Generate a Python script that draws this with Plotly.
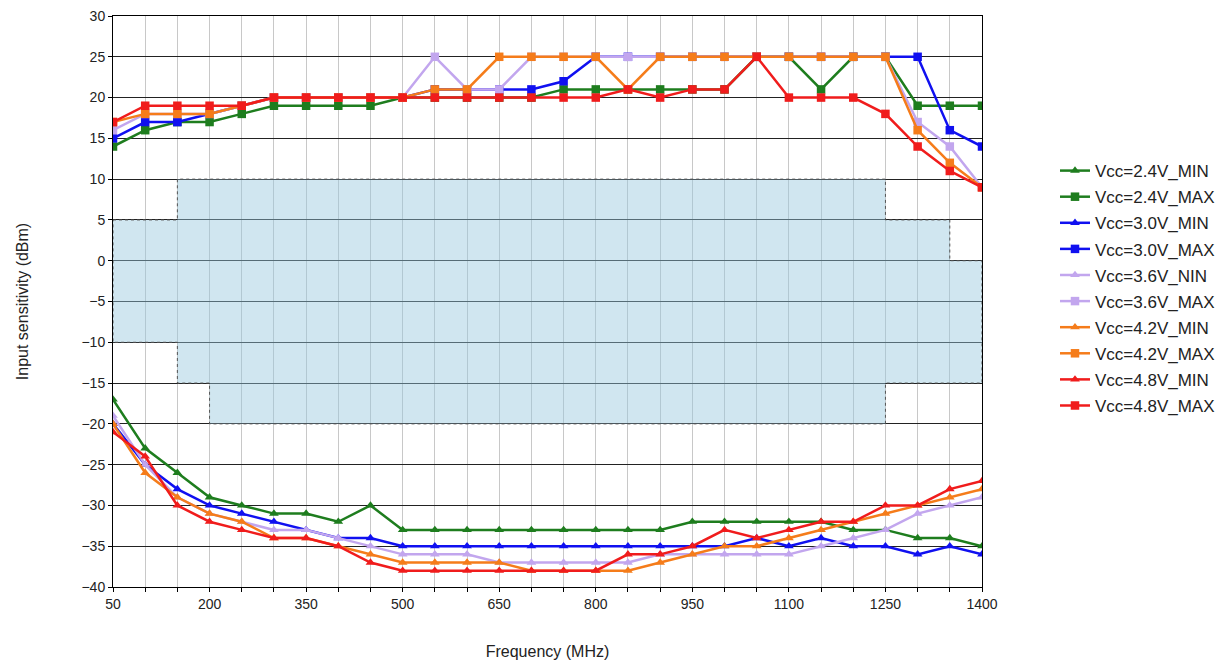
import plotly.graph_objects as go

freq = list(range(50, 1401, 50))

v24_min = [-17,-23,-26,-29,-30,-31,-31,-32,-30,-33,-33,-33,-33,-33,-33,-33,-33,-33,-32,-32,-32,-32,-32,-33,-33,-34,-34,-35]
v24_max = [14,16,17,17,18,19,19,19,19,20,20,20,20,20,21,21,21,21,21,21,25,25,21,25,25,19,19,19]
v30_min = [-20,-25,-28,-30,-31,-32,-33,-34,-34,-35,-35,-35,-35,-35,-35,-35,-35,-35,-35,-35,-34,-35,-34,-35,-35,-36,-35,-36]
v30_max = [15,17,17,18,19,20,20,20,20,20,21,21,21,21,22,25,25,25,25,25,25,25,25,25,25,25,16,14]
v36_min = [-19,-25,-29,-31,-32,-33,-33,-34,-35,-36,-36,-36,-37,-37,-37,-37,-37,-36,-36,-36,-36,-36,-35,-34,-33,-31,-30,-29]
v36_max = [16,18,18,18,19,20,20,20,20,20,25,21,21,25,25,25,25,25,25,25,25,25,25,25,25,17,14,9]
v42_min = [-20,-26,-29,-31,-32,-34,-34,-35,-36,-37,-37,-37,-37,-38,-38,-38,-38,-37,-36,-35,-35,-34,-33,-32,-31,-30,-29,-28]
v42_max = [17,18,18,18,19,20,20,20,20,20,21,21,25,25,25,25,21,25,25,25,25,25,25,25,25,16,12,9]
v48_min = [-21,-24,-30,-32,-33,-34,-34,-35,-37,-38,-38,-38,-38,-38,-38,-38,-36,-36,-35,-33,-34,-33,-32,-32,-30,-30,-28,-27]
v48_max = [17,19,19,19,19,20,20,20,20,20,20,20,20,20,20,20,21,20,21,21,25,20,20,20,18,14,11,9]

series_names = ["Vcc=2.4V_MIN", "Vcc=2.4V_MAX", "Vcc=3.0V_MIN", "Vcc=3.0V_MAX",
                "Vcc=3.6V_NIN", "Vcc=3.6V_MAX", "Vcc=4.2V_MIN", "Vcc=4.2V_MAX",
                "Vcc=4.8V_MIN", "Vcc=4.8V_MAX"]
series_values = [v24_min, v24_max, v30_min, v30_max, v36_min, v36_max,
                 v42_min, v42_max, v48_min, v48_max]
series_colors = ["#1e7d1e", "#1e7d1e", "#1010f0", "#1010f0", "#c2a6ee", "#c2a6ee",
                 "#f57c1a", "#f57c1a", "#f01c1c", "#f01c1c"]

# Shaded band (spec window), step segments
band_start = [50, 150, 200, 1250, 1350]
band_end = [150, 200, 1250, 1350, 1400]
band_top = [5, 10, 10, 5, 0]
band_bottom = [-10, -15, -20, -15, -15]

x_tick_labels = [50, 200, 350, 500, 650, 800, 950, 1100, 1250, 1400]

poly_x, poly_y = [], []
for s, e, t in zip(band_start, band_end, band_top):
    poly_x += [s, e]
    poly_y += [t, t]
for s, e, b in reversed(list(zip(band_start, band_end, band_bottom))):
    poly_x += [e, s]
    poly_y += [b, b]
poly_x.append(poly_x[0])
poly_y.append(poly_y[0])

fig = go.Figure()
fig.add_trace(go.Scatter(
    x=poly_x, y=poly_y, mode="lines", fill="toself",
    fillcolor="rgba(150,200,222,0.45)",
    line=dict(color="#555555", width=1, dash="dot"),
    showlegend=False, hoverinfo="skip"))

for i, (name, vals, col) in enumerate(zip(series_names, series_values, series_colors)):
    sym = "triangle-up" if "MAX" not in name else "square"
    fig.add_trace(go.Scatter(
        x=freq, y=vals, name=name, mode="lines+markers",
        line=dict(color=col, width=2.5),
        marker=dict(symbol=sym, size=8.5, color=col),
        legendgroup=name))

font_family = "Liberation Sans, Arial, sans-serif"
fig.update_layout(
    width=1215, height=652,
    margin=dict(l=105, r=241, t=8, b=73, autoexpand=False),
    paper_bgcolor="white", plot_bgcolor="white",
    font=dict(family=font_family, size=14, color="#222222"),
    showlegend=True,
    legend=dict(x=1.084, y=0.76, xanchor="left", yanchor="top",
                font=dict(size=17, color="#222222"),
                tracegroupgap=1, bgcolor="rgba(0,0,0,0)"),
    xaxis=dict(
        range=[50, 1400], tickvals=x_tick_labels,
        ticktext=[str(v) for v in x_tick_labels],
        automargin=False, ticklabeloverflow="allow",
        showgrid=True, gridcolor="#c8c8c8", gridwidth=1,
        showline=True, linecolor="black", linewidth=1, mirror=True,
        ticks="outside", ticklen=4, tickcolor="black",
        minor=dict(tick0=50, dtick=50, showgrid=True, gridcolor="#c8c8c8",
                   ticks="outside", ticklen=4, tickcolor="black"),
        zeroline=False,
        title=dict(text="Frequency (MHz)", font=dict(size=16), standoff=40),
    ),
    yaxis=dict(
        range=[-40, 30], dtick=5, tick0=-40,
        automargin=False, ticklabeloverflow="allow",
        showgrid=True, gridcolor="#222222", gridwidth=1,
        showline=True, linecolor="black", linewidth=1, mirror=True,
        ticks="outside", ticklen=4, tickcolor="black",
        zeroline=False,
        title=dict(text="Input sensitivity (dBm)", font=dict(size=16), standoff=48),
    ),
)

fig.write_html("out.html")
